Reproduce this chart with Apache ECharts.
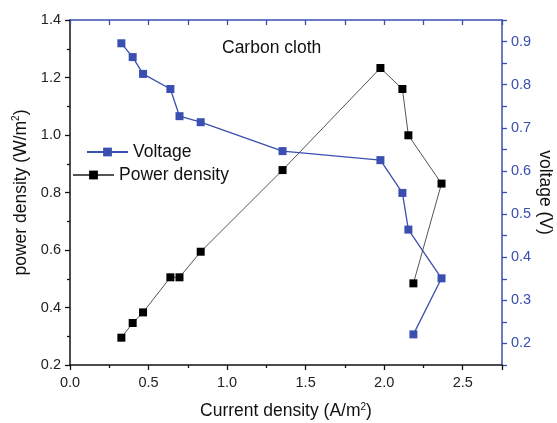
<!DOCTYPE html>
<html><head><meta charset="utf-8">
<script src="https://cdn.jsdelivr.net/npm/echarts@6/dist/echarts.min.js"></script>
<style>html,body{margin:0;padding:0;background:#fff}#c{width:557px;height:423px}</style>
</head><body><div id="c"></div>
<script>
const currentDensity = [0.327, 0.399, 0.465, 0.639, 0.697, 0.832, 1.353, 1.976, 2.116, 2.154, 2.365, 2.186];
const voltage = [0.896, 0.864, 0.825, 0.790, 0.727, 0.713, 0.646, 0.625, 0.549, 0.464, 0.351, 0.221];
const powerDensity = [0.295, 0.346, 0.383, 0.505, 0.505, 0.594, 0.878, 1.233, 1.160, 0.999, 0.831, 0.484];
const seriesNames = ['Voltage', 'Power density'];

const blue = '#3a4fb0';
const font = 'Arial, "Liberation Sans", sans-serif';
const nameSize = 17.5;
const rich = {a: {fontSize: nameSize, color: '#111', fontFamily: font}, s: {fontSize: 10, color: '#111', verticalAlign: 'top', padding: [0,0,9,0], fontFamily: font}};
const chart = echarts.init(document.getElementById('c'));
chart.setOption({
  animation: false,
  backgroundColor: '#fff',
  textStyle: {fontFamily: font},
  grid: {left: 70, right: 55, top: 20, bottom: 58, outerBoundsMode: 'none', containLabel: false},
  title: {text: 'Carbon cloth', left: 217, top: 34, textStyle: {fontSize: nameSize, fontWeight: 'normal', color: '#111', fontFamily: font}},
  legend: [{
    left: 81, top: 138, itemWidth: 41, itemHeight: 11, itemGap: 6,
    textStyle: {fontSize: nameSize, color: '#111', fontFamily: font},
    data: [seriesNames[0]]
  }, {
    left: 67, top: 161, itemWidth: 41, itemHeight: 11, itemGap: 6,
    textStyle: {fontSize: nameSize, color: '#111', fontFamily: font},
    data: [seriesNames[1]]
  }],
  xAxis: [{
    type: 'value', min: 0, max: 2.75, interval: 0.5, position: 'bottom',
    name: '{a|Current density (A/m}{s|2}{a|)}', nameLocation: 'middle', nameGap: 37,
    nameTextStyle: {rich: rich},
    axisLine: {onZero: false, lineStyle: {color: '#111', width: 1.5}},
    axisTick: {inside: false, length: 5, lineStyle: {color: '#111', width: 1.3}},
    minorTick: {show: true, splitNumber: 2, length: 3, lineStyle: {color: '#111', width: 1.3}},
    axisLabel: {fontSize: 14.5, color: '#222', margin: 10, formatter: v => v.toFixed(1), showMaxLabel: false},
    splitLine: {show: false}
  }, {
    type: 'value', min: 0, max: 2.75, interval: 0.25, position: 'top',
    axisLine: {onZero: false, lineStyle: {color: blue, width: 1.5}},
    axisTick: {inside: true, length: 5, lineStyle: {color: blue, width: 1.3}},
    axisLabel: {show: false}, splitLine: {show: false}
  }],
  yAxis: [{
    type: 'value', min: 0.2, max: 1.4, interval: 0.2, position: 'left',
    name: '{a|power density (W/m}{s|2}{a|)}', nameLocation: 'middle', nameGap: 39, nameRotate: 90,
    nameTextStyle: {rich: rich},
    axisLine: {show: true, onZero: false, lineStyle: {color: '#111', width: 1.5}},
    axisTick: {show: true, length: 5, lineStyle: {color: '#111', width: 1.3}},
    minorTick: {show: true, splitNumber: 2, length: 3, lineStyle: {color: '#111', width: 1.3}},
    axisLabel: {fontSize: 14.5, color: '#222', margin: 9, formatter: v => v.toFixed(1)},
    splitLine: {show: false}
  }, {
    type: 'value', min: 0.15, max: 0.95, interval: 0.05, position: 'right',
    name: 'voltage (V)', nameLocation: 'middle', nameGap: 34, nameRotate: -90, nameMoveOverlap: false,
    nameTextStyle: {fontSize: nameSize, color: '#111', fontFamily: font},
    axisLine: {show: true, onZero: false, lineStyle: {color: blue, width: 1.5}},
    axisTick: {show: true, length: 5, lineStyle: {color: blue, width: 1.3}},
    axisLabel: {fontSize: 14.5, color: blue, margin: 9,
      formatter: v => { const r = Math.round(v * 100); return r % 10 === 0 ? (r/100).toFixed(1) : ''; }},
    splitLine: {show: false}
  }],
  series: [{
    name: seriesNames[0], type: 'line', xAxisIndex: 0, yAxisIndex: 1,
    data: currentDensity.map((x, i) => [x, voltage[i]]),
    symbol: 'rect', symbolSize: 8,
    lineStyle: {color: blue, width: 1.3}, itemStyle: {color: blue}, color: blue
  }, {
    name: seriesNames[1], type: 'line', xAxisIndex: 0, yAxisIndex: 0,
    data: currentDensity.map((x, i) => [x, powerDensity[i]]),
    symbol: 'rect', symbolSize: 8,
    lineStyle: {color: '#555', width: 1}, itemStyle: {color: '#000'}, color: '#000'
  }]
});
</script></body></html>
